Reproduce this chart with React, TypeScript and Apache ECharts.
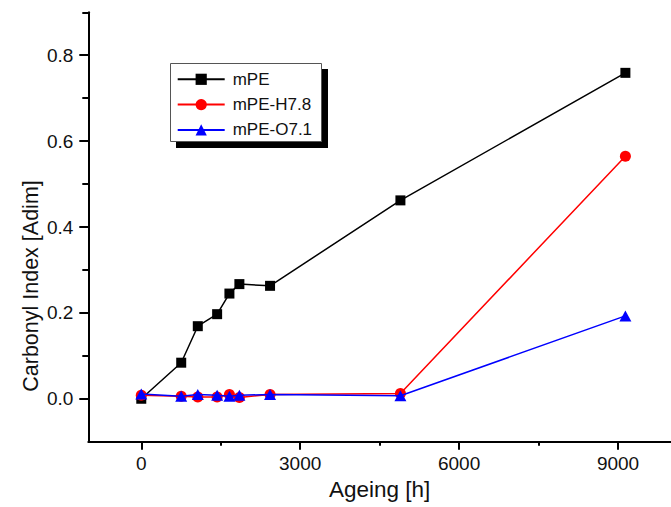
import React, { useEffect, useRef } from "react";
import * as echarts from "echarts";

const ageing = [0, 754, 1067, 1432, 1664, 1852, 2431, 4892, 9139];
const mPE = [0.0, 0.084, 0.169, 0.197, 0.245, 0.267, 0.263, 0.462, 0.759];
const mPEH78 = [0.008, 0.006, 0.004, 0.004, 0.01, 0.003, 0.01, 0.012, 0.565];
const mPEO71 = [0.011, 0.006, 0.01, 0.008, 0.006, 0.008, 0.01, 0.007, 0.193];

const xMajor = [0, 3000, 6000, 9000];
const xMinor = [1500, 4500, 7500];
const yMajor = [0, 0.2, 0.4, 0.6, 0.8];
const yMinor = [0.1, 0.3, 0.5, 0.7, 0.9];

const xTitle = "Ageing [h]";
const yTitle = "Carbonyl Index [Adim]";

const FONT = "'Liberation Sans', Arial, sans-serif";
const TXT = "#111";

const pairs = (ys: number[]) => ageing.map((x, i) => [x, ys[i]]);

export default function App() {
  const ref = useRef<HTMLDivElement>(null);
  useEffect(() => {
    if (!ref.current) return;
    const chart = echarts.init(ref.current, undefined, { renderer: "svg" });
    const axisLine = { show: true, onZero: false, lineStyle: { color: "#000", width: 2 } };
    const hiddenLine = { show: false, onZero: false };
    const baseX = {
      type: "value" as const,
      min: -1000,
      max: 10000,
      position: "bottom" as const,
      gridIndex: 0,
      splitLine: { show: false },
    };
    const baseY = {
      type: "value" as const,
      min: -0.1,
      max: 0.9,
      position: "left" as const,
      gridIndex: 0,
      splitLine: { show: false },
    };
    chart.setOption({
      animation: false,
      backgroundColor: "#fff",
      textStyle: { fontFamily: FONT },
      grid: { left: 88.3, right: 0, top: 12.3, bottom: 65.3, containLabel: false },
      xAxis: [
        {
          ...baseX,
          name: xTitle,
          nameLocation: "middle",
          nameGap: 34,
          nameTextStyle: { fontSize: 22.5, color: TXT, fontFamily: FONT },
          axisLine,
          axisTick: { show: true, customValues: xMajor, length: 8, lineStyle: { color: "#000", width: 2 } },
          axisLabel: {
            show: true,
            customValues: xMajor,
            margin: 12,
            fontSize: 19,
            color: TXT,
            fontFamily: FONT,
            formatter: (v: number) => String(v),
          },
        },
        {
          ...baseX,
          axisLine: hiddenLine,
          axisTick: { show: true, customValues: xMinor, length: 4, lineStyle: { color: "#000", width: 2 } },
          axisLabel: { show: false },
        },
      ],
      yAxis: [
        {
          ...baseY,
          axisLine,
          axisTick: { show: true, customValues: yMajor, length: 9, lineStyle: { color: "#000", width: 2 } },
          axisLabel: {
            show: true,
            customValues: yMajor,
            margin: 15,
            fontSize: 19,
            color: TXT,
            fontFamily: FONT,
            formatter: (v: number) => v.toFixed(1),
          },
        },
        {
          ...baseY,
          axisLine: hiddenLine,
          axisTick: { show: true, customValues: yMinor, length: 6, lineStyle: { color: "#000", width: 2 } },
          axisLabel: { show: false },
        },
      ],
      legend: {
        orient: "vertical",
        left: 176.7,
        top: 70.8,
        padding: 0,
        itemWidth: 47,
        itemHeight: 14,
        itemGap: 8.3,
        textStyle: { fontSize: 17, color: TXT, fontFamily: FONT, lineHeight: 17, padding: [0, 0, 0, 3] },
        data: ["mPE", "mPE-H7.8", "mPE-O7.1"],
      },
      graphic: [
        { type: "rect", z: 1, shape: { x: 176, y: 69, width: 152, height: 79 }, style: { fill: "#000" } },
        {
          type: "rect",
          z: 2,
          shape: { x: 170.5, y: 63.5, width: 151, height: 78 },
          style: { fill: "#fff", stroke: "#555", lineWidth: 1 },
        },
        {
          type: "text",
          x: 31,
          y: 286,
          rotation: Math.PI / 2,
          style: {
            text: yTitle,
            fontSize: 21.5,
            fontFamily: FONT,
            fill: TXT,
            align: "center",
            verticalAlign: "middle",
          },
        },
      ],
      series: [
        {
          name: "mPE",
          type: "line",
          data: pairs(mPE),
          symbol: "rect",
          symbolSize: 10,
          itemStyle: { color: "#000" },
          lineStyle: { color: "#000", width: 1.5 },
          z: 3,
        },
        {
          name: "mPE-H7.8",
          type: "line",
          data: pairs(mPEH78),
          symbol: "circle",
          symbolSize: 11,
          itemStyle: { color: "#ff0000" },
          lineStyle: { color: "#ff0000", width: 1.5 },
          z: 4,
        },
        {
          name: "mPE-O7.1",
          type: "line",
          data: pairs(mPEO71),
          symbol: "triangle",
          symbolSize: [12, 11],
          itemStyle: { color: "#0000ff" },
          lineStyle: { color: "#0000ff", width: 1.5 },
          z: 5,
        },
      ],
    });
    return () => chart.dispose();
  }, []);
  return (
    <div
      ref={ref}
      style={{ position: "fixed", left: 0, top: 0, width: 671, height: 507, background: "#fff" }}
    />
  );
}
